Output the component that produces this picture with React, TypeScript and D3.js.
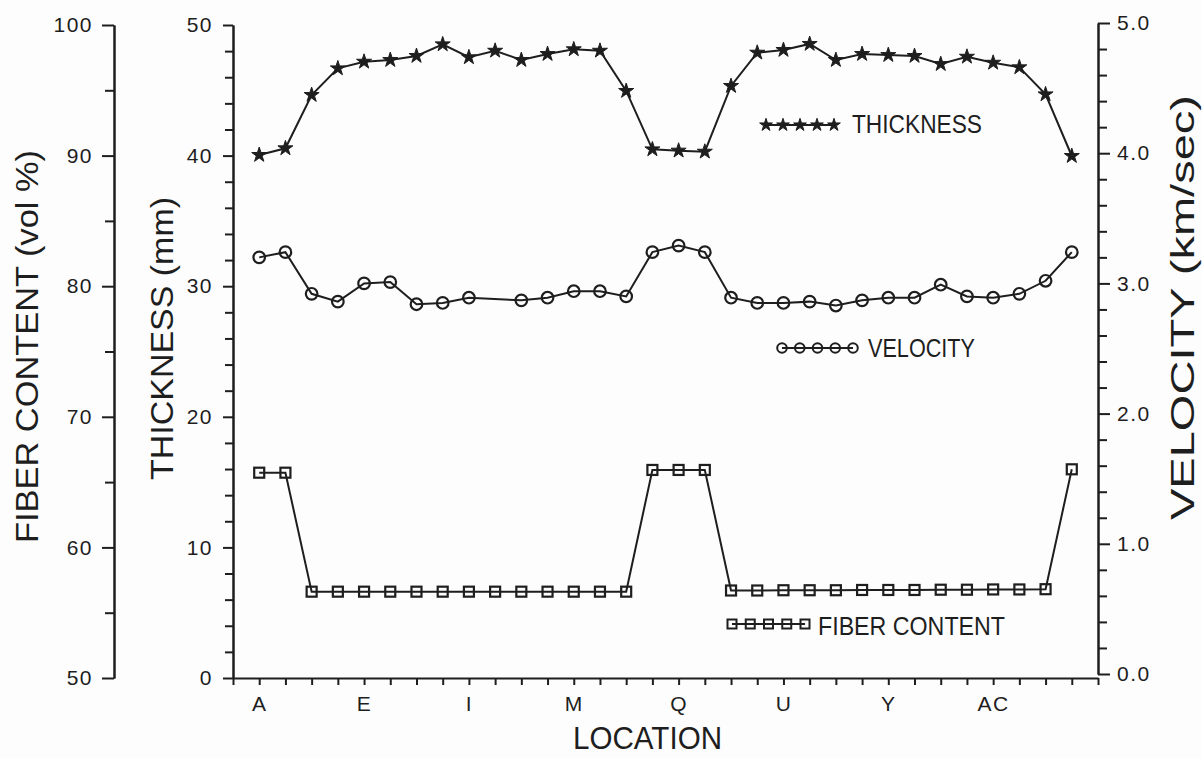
import React, { useEffect, useRef } from 'react';
import * as d3 from 'd3';

// location codes along the panel
const locations = ['A', 'B', 'C', 'D', 'E', 'F', 'G', 'H', 'I', 'J', 'K', 'L', 'M', 'N', 'O', 'P',
  'Q', 'R', 'S', 'T', 'U', 'V', 'W', 'X', 'Y', 'Z', 'AA', 'AB', 'AC', 'AD', 'AE', 'AF'];
const labelledLocations = ['A', 'E', 'I', 'M', 'Q', 'U', 'Y', 'AC'];

// thickness (mm)
const thickness = [40.05, 40.56, 44.64, 46.68, 47.19, 47.32, 47.63, 48.52, 47.53, 48.03, 47.32, 47.78,
  48.14, 48.03, 44.95, 40.48, 40.38, 40.30, 45.33, 47.88, 48.09, 48.55, 47.32, 47.78, 47.70, 47.63,
  47.01, 47.57, 47.11, 46.76, 44.69, 39.97];

// velocity (km/sec), J was not measured
const velocity: (number | null)[] = [3.20, 3.24, 2.92, 2.86, 3.00, 3.01, 2.84, 2.85, 2.89, null, 2.87, 2.89,
  2.94, 2.94, 2.90, 3.24, 3.29, 3.24, 2.89, 2.85, 2.85, 2.86, 2.83, 2.87, 2.89, 2.89,
  2.99, 2.90, 2.89, 2.92, 3.02, 3.24];

// fiber content (vol %)
const fiber = [65.72, 65.72, 56.61, 56.61, 56.61, 56.61, 56.61, 56.61, 56.61, 56.61, 56.61, 56.61,
  56.61, 56.61, 56.61, 65.93, 65.93, 65.93, 56.70, 56.70, 56.72, 56.72, 56.72, 56.74, 56.74, 56.74,
  56.76, 56.76, 56.78, 56.78, 56.80, 65.98];

const fiberTicks = [50, 60, 70, 80, 90, 100];
const thicknessTicks = [0, 10, 20, 30, 40, 50];
const velocityTicks = [0, 1, 2, 3, 4, 5];

const INK = '#1e1e1e';
const FONT = '"Liberation Sans", Arial, Helvetica, sans-serif';

export default function App() {
  const svgRef = useRef<SVGSVGElement | null>(null);

  useEffect(() => {
    const svg = d3.select(svgRef.current);
    svg.selectAll('*').remove();

    const x = d3.scaleLinear().domain([-1, 32]).range([233, 1098]);
    const yThk = d3.scaleLinear().domain([0, 50]).range([678, 25]);
    const yFib = d3.scaleLinear().domain([50, 100]).range([678, 25]);
    const yVel = d3.scaleLinear().domain([0, 5]).range([674, 23]);

    svg.append('rect').attr('width', 1202).attr('height', 758).attr('fill', '#fdfdfd');

    const styleAxis = (g: any) => {
      g.select('.domain').attr('stroke', INK).attr('stroke-width', 2);
      g.selectAll('.tick line').attr('stroke', INK).attr('stroke-width', 2);
      g.selectAll('.tick text')
        .attr('fill', INK)
        .style('font-family', FONT)
        .style('font-size', '21px')
        .style('letter-spacing', '1.5px');
    };

    // fiber content axis (far left)
    svg.append('g').attr('transform', 'translate(114,0)')
      .call(d3.axisLeft(yFib).tickValues(d3.range(55, 100, 10)).tickSize(9).tickFormat(() => '').tickSizeOuter(0))
      .call(styleAxis);
    svg.append('g').attr('transform', 'translate(114,0)')
      .call(d3.axisLeft(yFib).tickValues(fiberTicks).tickSize(12).tickPadding(9).tickSizeOuter(0))
      .call(styleAxis);

    // thickness axis
    svg.append('g').attr('transform', 'translate(233,0)')
      .call(d3.axisLeft(yThk).tickValues(d3.range(0, 51, 2).filter(d => d % 10 !== 0)).tickSize(8).tickFormat(() => '').tickSizeOuter(0))
      .call(styleAxis);
    svg.append('g').attr('transform', 'translate(233,0)')
      .call(d3.axisLeft(yThk).tickValues(thicknessTicks).tickSize(10).tickPadding(10).tickSizeOuter(0))
      .call(styleAxis);

    // velocity axis (right)
    svg.append('g').attr('transform', 'translate(1098,0)')
      .call(d3.axisRight(yVel).tickValues(d3.range(0, 51, 2).filter(d => d % 10 !== 0).map(d => d / 10)).tickSize(9).tickFormat(() => '').tickSizeOuter(0))
      .call(styleAxis);
    svg.append('g').attr('transform', 'translate(1098,0)')
      .call(d3.axisRight(yVel).tickValues(velocityTicks).tickSize(12).tickPadding(7).tickFormat(d3.format('.1f')).tickSizeOuter(0))
      .call(styleAxis);

    // location axis
    svg.append('g').attr('transform', 'translate(0,678)')
      .call(d3.axisBottom(x).tickValues(d3.range(-1, 33)).tickSize(7).tickFormat(() => '').tickSizeOuter(0))
      .call(styleAxis);
    svg.append('g').attr('transform', 'translate(0,678)')
      .call(d3.axisBottom(x).tickValues(labelledLocations.map(l => locations.indexOf(l)))
        .tickSize(0).tickPadding(18).tickFormat((d: any) => locations[d]))
      .call(styleAxis)
      .call((g: any) => g.select('.domain').remove());

    // axis titles
    const title = (label: string, tx: number, ty: number, rot: number, len: number, size: number) => {
      svg.append('text')
        .attr('transform', `translate(${tx},${ty}) rotate(${rot})`)
        .attr('textLength', len)
        .attr('lengthAdjust', 'spacingAndGlyphs')
        .attr('fill', INK)
        .style('font-family', FONT)
        .style('font-size', `${size}px`)
        .text(label);
    };
    title('FIBER  CONTENT  (vol  %)', 38, 543, -90, 393, 32);
    title('THICKNESS  (mm)', 173, 480, -90, 283, 32);
    title('VELOCITY  (km/sec)', 1194, 520, -90, 425, 33);
    title('LOCATION', 573, 749, 0, 149, 31);

    const star = d3.symbol().type(d3.symbolStar);
    const series = [
      { key: 'thk', values: thickness as (number | null)[], y: yThk },
      { key: 'vel', values: velocity, y: yVel },
      { key: 'fib', values: fiber as (number | null)[], y: yFib },
    ];

    series.forEach(s => {
      const pts = s.values.map((v, i) => ({ i, v })).filter(p => p.v != null) as { i: number; v: number }[];
      const line = d3.line<{ i: number; v: number }>().x(p => x(p.i)).y(p => s.y(p.v));
      svg.append('path').datum(pts)
        .attr('d', line)
        .attr('fill', 'none')
        .attr('stroke', INK)
        .attr('stroke-width', 2);

      const g = svg.append('g');
      pts.forEach(p => {
        const cx = x(p.i), cy = s.y(p.v);
        if (s.key === 'thk') {
          g.append('path').attr('d', star.size(70)()).attr('transform', `translate(${cx},${cy})`)
            .attr('fill', INK).attr('stroke', INK).attr('stroke-width', 1);
        } else if (s.key === 'vel') {
          g.append('circle').attr('cx', cx).attr('cy', cy).attr('r', 5.8)
            .attr('fill', 'none').attr('stroke', INK).attr('stroke-width', 2.2);
        } else {
          g.append('rect').attr('x', cx - 5).attr('y', cy - 5).attr('width', 10).attr('height', 10)
            .attr('fill', 'none').attr('stroke', INK).attr('stroke-width', 2.2);
        }
      });
    });

    // legends
    const legends = [
      { key: 'thk', x0: 766, x1: 834, y: 125, label: 'THICKNESS', tx: 852, ty: 133, len: 130 },
      { key: 'vel', x0: 782, x1: 853, y: 348, label: 'VELOCITY', tx: 868, ty: 357, len: 107 },
      { key: 'fib', x0: 732, x1: 805, y: 624, label: 'FIBER  CONTENT', tx: 818, ty: 635, len: 187 },
    ];
    legends.forEach(l => {
      svg.append('line').attr('x1', l.x0).attr('x2', l.x1).attr('y1', l.y).attr('y2', l.y)
        .attr('stroke', INK).attr('stroke-width', 2);
      const mx = d3.scaleLinear().domain([0, 4]).range([l.x0, l.x1]);
      d3.range(5).forEach(k => {
        const cx = mx(k);
        if (l.key === 'thk') {
          svg.append('path').attr('d', star.size(50)()).attr('transform', `translate(${cx},${l.y})`)
            .attr('fill', INK).attr('stroke', INK).attr('stroke-width', 1);
        } else if (l.key === 'vel') {
          svg.append('circle').attr('cx', cx).attr('cy', l.y).attr('r', 4.8)
            .attr('fill', 'none').attr('stroke', INK).attr('stroke-width', 2);
        } else {
          svg.append('rect').attr('x', cx - 4.5).attr('y', l.y - 4.5).attr('width', 9).attr('height', 9)
            .attr('fill', 'none').attr('stroke', INK).attr('stroke-width', 2);
        }
      });
      svg.append('text')
        .attr('x', l.tx).attr('y', l.ty)
        .attr('textLength', l.len)
        .attr('lengthAdjust', 'spacingAndGlyphs')
        .attr('fill', INK)
        .style('font-family', FONT)
        .style('font-size', '25px')
        .text(l.label);
    });
  }, []);

  return (
    <svg
      ref={svgRef}
      width={1202}
      height={758}
      style={{ position: 'absolute', left: 0, top: 0, display: 'block' }}
    />
  );
}
